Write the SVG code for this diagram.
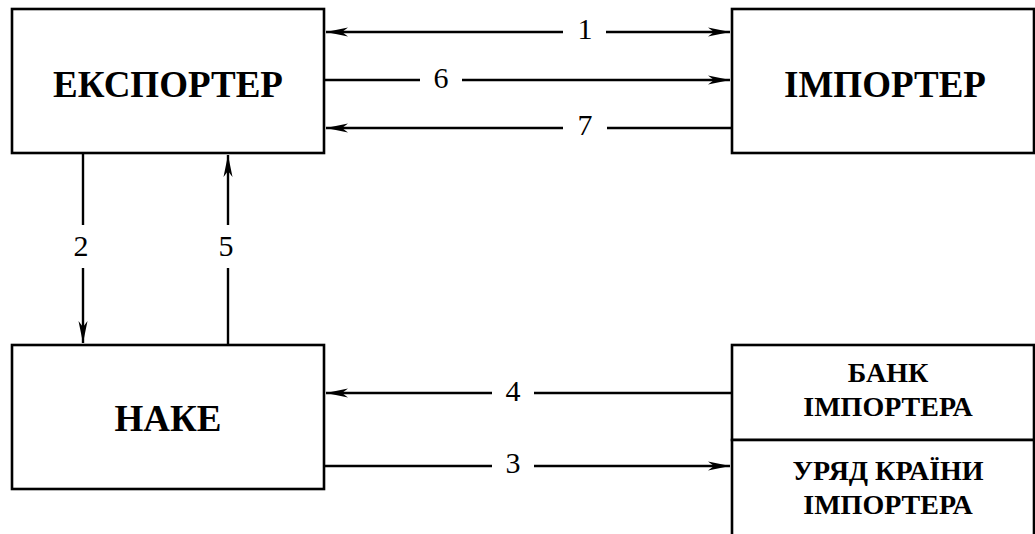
<svg xmlns="http://www.w3.org/2000/svg" width="1035" height="534" viewBox="0 0 1035 534" font-family="Liberation Serif">
<style>
.box{fill:#fff;stroke:#000;stroke-width:2.6}
.big{font-weight:bold;font-size:37px;text-anchor:middle;fill:#000}
.small{font-weight:bold;font-size:28px;text-anchor:middle;fill:#000}
.num{font-size:30px;text-anchor:middle;fill:#000}
.ln{stroke:#000;stroke-width:2.4;fill:none}
</style>
<defs>
<marker id="ah" markerUnits="userSpaceOnUse" markerWidth="26" markerHeight="12" viewBox="-24 -6 26 12" refX="0" refY="0" orient="auto-start-reverse">
<path d="M0,0 L-22,-4.5 L-16,0 L-22,4.5 Z" fill="#000"/>
</marker>
</defs>
<rect width="1035" height="534" fill="#fff"/>
<g id="exporter"><rect class="box" x="12" y="9" width="312" height="144"/><text class="big" x="168" y="97" font-family="Liberation Serif">ЕКСПОРТЕР</text></g>
<g id="importer"><rect class="box" x="732" y="9" width="302" height="144"/><text class="big" x="885" y="97" font-family="Liberation Serif">ІМПОРТЕР</text></g>
<g id="nake"><rect class="box" x="12" y="345" width="312" height="144"/><text class="big" x="168" y="431" font-family="Liberation Serif">НАКЕ</text></g>
<g id="bank"><rect class="box" x="732" y="345" width="302" height="95"/><text class="small" x="888" y="382" font-family="Liberation Serif">БАНК</text><text class="small" x="888" y="416" font-family="Liberation Serif">ІМПОРТЕРА</text></g>
<g id="government"><rect class="box" x="732" y="440" width="302" height="100"/><text class="small" x="888" y="480" font-family="Liberation Serif">УРЯД КРАЇНИ</text><text class="small" x="888" y="514" font-family="Liberation Serif">ІМПОРТЕРА</text></g>
<g id="connectors">
<path class="ln" d="M563,32 H326" marker-end="url(#ah)"/>
<path class="ln" d="M606,32 H730" marker-end="url(#ah)"/>
<text class="num" x="585" y="39" font-family="Liberation Serif">1</text>
<path class="ln" d="M324,80 H420"/>
<path class="ln" d="M462,80 H730" marker-end="url(#ah)"/>
<text class="num" x="441" y="88" font-family="Liberation Serif">6</text>
<path class="ln" d="M563,128 H326" marker-end="url(#ah)"/>
<path class="ln" d="M732,128 H607"/>
<text class="num" x="585" y="135" font-family="Liberation Serif">7</text>
<path class="ln" d="M492,393 H326" marker-end="url(#ah)"/>
<path class="ln" d="M732,393 H534"/>
<text class="num" x="513" y="401" font-family="Liberation Serif">4</text>
<path class="ln" d="M324,466 H492"/>
<path class="ln" d="M534,466 H730" marker-end="url(#ah)"/>
<text class="num" x="513" y="473" font-family="Liberation Serif">3</text>
<path class="ln" d="M83,153 V225"/>
<path class="ln" d="M83,268 V343" marker-end="url(#ah)"/>
<text class="num" x="81" y="256" font-family="Liberation Serif">2</text>
<path class="ln" d="M228,345 V268"/>
<path class="ln" d="M228,225 V155" marker-end="url(#ah)"/>
<text class="num" x="226" y="256" font-family="Liberation Serif">5</text>
</g>
</svg>
